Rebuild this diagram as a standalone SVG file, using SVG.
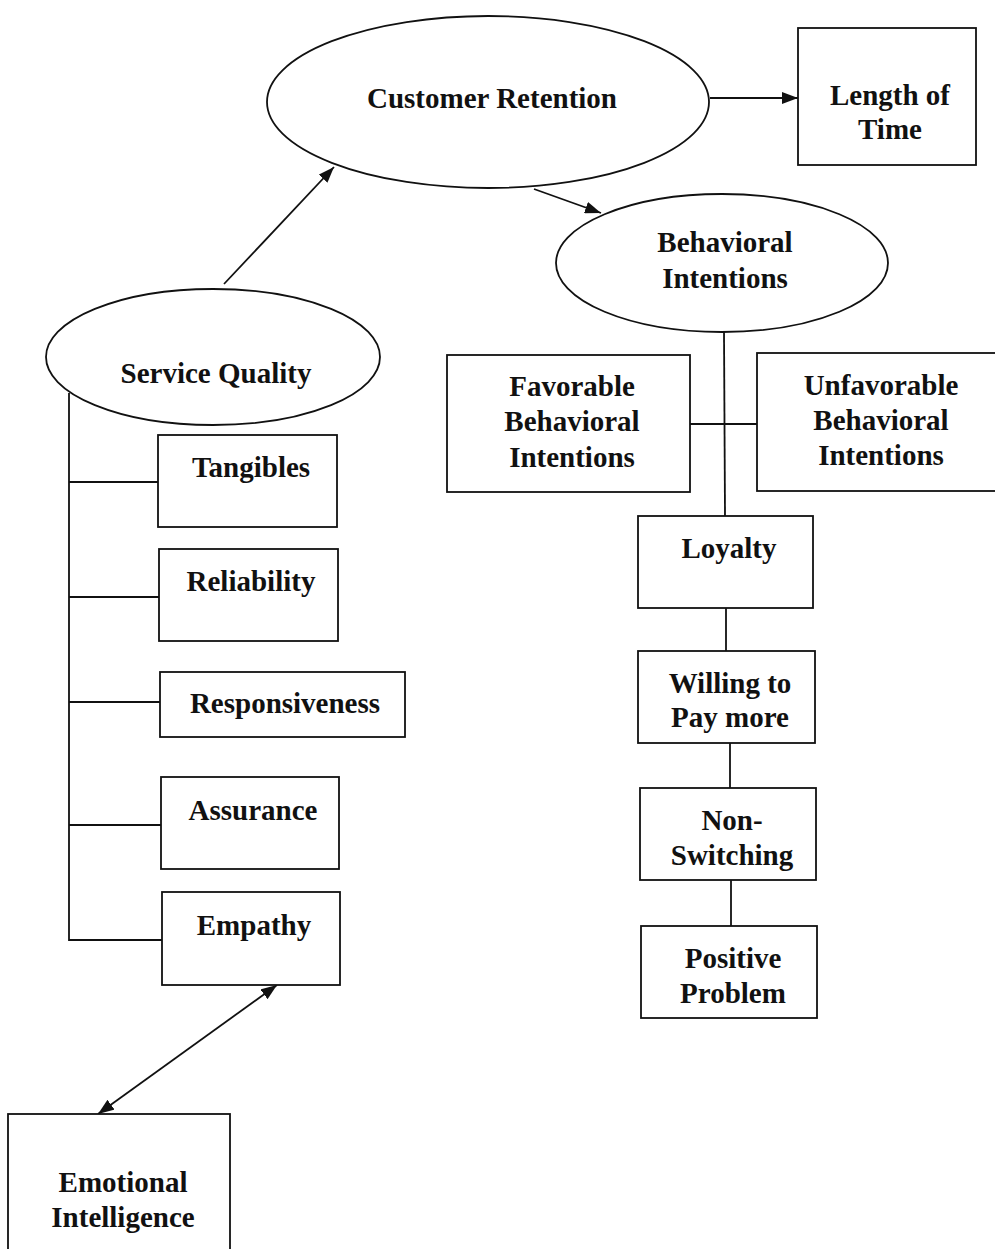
<svg xmlns="http://www.w3.org/2000/svg" width="995" height="1249" viewBox="0 0 995 1249">
<defs>
<style>
.s{fill:#fff;stroke:#111;stroke-width:1.8}
.l{fill:none;stroke:#111;stroke-width:1.8}
.t{font-family:"Liberation Serif","Times New Roman",serif;font-weight:bold;font-size:29px;fill:#111;text-anchor:middle}
</style>
<marker id="ah" viewBox="0 0 10 10" refX="10" refY="5" markerWidth="8" markerHeight="7" markerUnits="userSpaceOnUse" orient="auto-start-reverse" style="overflow:visible">
<path d="M0,0 L10,5 L0,10 z" fill="#111"/>
</marker>
<marker id="a" viewBox="0 0 16 12" refX="16" refY="6" markerWidth="16" markerHeight="12" markerUnits="userSpaceOnUse" orient="auto-start-reverse">
<path d="M0,0 L16,6 L0,12 z" fill="#111"/>
</marker>
</defs>
<rect width="995" height="1249" fill="#fff"/>
<g id="connectors">
<line class="l" x1="710" y1="98" x2="798" y2="98" marker-end="url(#a)"/>
<line class="l" x1="534" y1="189" x2="601" y2="213" marker-end="url(#a)"/>
<line class="l" x1="224" y1="284" x2="334" y2="167" marker-end="url(#a)"/>
<line class="l" x1="98" y1="1114" x2="277" y2="985" marker-start="url(#a)" marker-end="url(#a)"/>
<polyline class="l" points="69,393 69,940 162,940"/>
<line class="l" x1="69" y1="482" x2="158" y2="482"/>
<line class="l" x1="69" y1="597" x2="159" y2="597"/>
<line class="l" x1="69" y1="702" x2="160" y2="702"/>
<line class="l" x1="69" y1="825" x2="161" y2="825"/>
<line class="l" x1="724" y1="332" x2="725" y2="516"/>
<line class="l" x1="690" y1="424" x2="757" y2="424"/>
<line class="l" x1="726" y1="608" x2="726" y2="651"/>
<line class="l" x1="730" y1="743" x2="730" y2="788"/>
<line class="l" x1="731" y1="880" x2="731" y2="926"/>
</g>
<g id="customer-retention">
<ellipse class="s" cx="488" cy="102" rx="221" ry="86"/>
<text class="t" x="492" y="108">Customer Retention</text>
</g>
<g id="length-of-time">
<rect class="s" x="798" y="28" width="178" height="137"/>
<text class="t" x="890" y="105">Length of</text>
<text class="t" x="890" y="139">Time</text>
</g>
<g id="behavioral-intentions">
<ellipse class="s" cx="722" cy="263" rx="166" ry="69"/>
<text class="t" x="725" y="252">Behavioral</text>
<text class="t" x="725" y="288">Intentions</text>
</g>
<g id="service-quality">
<ellipse class="s" cx="213" cy="357" rx="167" ry="68"/>
<text class="t" x="216" y="383">Service Quality</text>
</g>
<g id="tangibles">
<rect class="s" x="158" y="435" width="179" height="92"/>
<text class="t" x="251" y="477">Tangibles</text>
</g>
<g id="reliability">
<rect class="s" x="159" y="549" width="179" height="92"/>
<text class="t" x="251" y="591">Reliability</text>
</g>
<g id="responsiveness">
<rect class="s" x="160" y="672" width="245" height="65"/>
<text class="t" x="285" y="713">Responsiveness</text>
</g>
<g id="assurance">
<rect class="s" x="161" y="777" width="178" height="92"/>
<text class="t" x="253" y="820">Assurance</text>
</g>
<g id="empathy">
<rect class="s" x="162" y="892" width="178" height="93"/>
<text class="t" x="254" y="935">Empathy</text>
</g>
<g id="emotional-intelligence">
<rect class="s" x="8" y="1114" width="222" height="150"/>
<text class="t" x="123" y="1192">Emotional</text>
<text class="t" x="123" y="1227">Intelligence</text>
</g>
<g id="favorable">
<rect class="s" x="447" y="355" width="243" height="137"/>
<text class="t" x="572" y="396">Favorable</text>
<text class="t" x="572" y="431">Behavioral</text>
<text class="t" x="572" y="467">Intentions</text>
</g>
<g id="unfavorable">
<rect class="s" x="757" y="353" width="240" height="138"/>
<text class="t" x="881" y="395">Unfavorable</text>
<text class="t" x="881" y="430">Behavioral</text>
<text class="t" x="881" y="465">Intentions</text>
</g>
<g id="loyalty">
<rect class="s" x="638" y="516" width="175" height="92"/>
<text class="t" x="729" y="558">Loyalty</text>
</g>
<g id="willing">
<rect class="s" x="638" y="651" width="177" height="92"/>
<text class="t" x="730" y="693">Willing to</text>
<text class="t" x="730" y="727">Pay more</text>
</g>
<g id="non-switching">
<rect class="s" x="640" y="788" width="176" height="92"/>
<text class="t" x="732" y="830">Non-</text>
<text class="t" x="732" y="865">Switching</text>
</g>
<g id="positive-problem">
<rect class="s" x="641" y="926" width="176" height="92"/>
<text class="t" x="733" y="968">Positive</text>
<text class="t" x="733" y="1003">Problem</text>
</g>
</svg>
